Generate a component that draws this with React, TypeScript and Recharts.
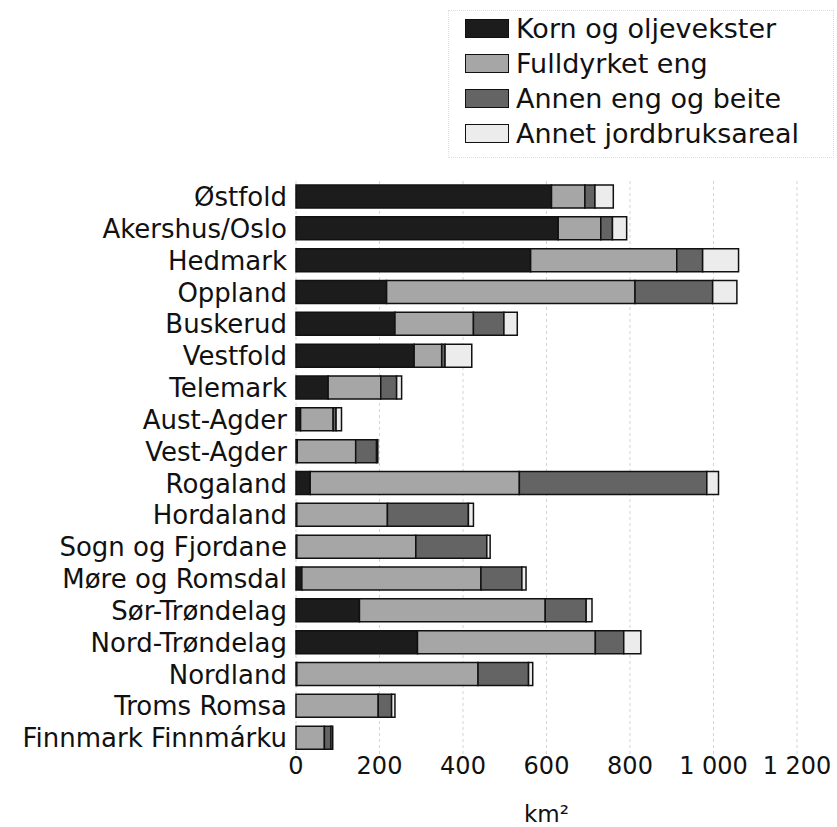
import { BarChart, Bar, XAxis, YAxis, CartesianGrid, Label } from 'recharts';

const regions = [
  'Østfold', 'Akershus/Oslo', 'Hedmark', 'Oppland', 'Buskerud', 'Vestfold',
  'Telemark', 'Aust-Agder', 'Vest-Agder', 'Rogaland', 'Hordaland', 'Sogn og Fjordane',
  'Møre og Romsdal', 'Sør-Trøndelag', 'Nord-Trøndelag', 'Nordland', 'Troms Romsa', 'Finnmark Finnmárku',
];
const korn = [612, 628, 562, 217, 237, 283, 77, 11, 3, 34, 2, 2, 14, 152, 291, 2, 0, 0];
const fulldyrket = [80, 102, 350, 595, 188, 66, 126, 78, 140, 501, 217, 285, 429, 445, 426, 434, 197, 68];
const annenEng = [24, 28, 62, 186, 73, 8, 38, 7, 50, 449, 194, 170, 98, 98, 68, 121, 32, 16];
const annet = [44, 34, 86, 58, 32, 64, 12, 13, 3, 28, 12, 8, 10, 14, 41, 10, 8, 4];

const seriesNames = ['Korn og oljevekster', 'Fulldyrket eng', 'Annen eng og beite', 'Annet jordbruksareal'];
const xTicks = [0, 200, 400, 600, 800, 1000, 1200];
const xTickLabels = ['0', '200', '400', '600', '800', '1 000', '1 200'];

const colors = ['#1c1c1c', '#a6a6a6', '#646464', '#ececec'];
const FONT = '"DejaVu Sans", sans-serif';

const data = regions.map((r, i) => ({
  region: r,
  korn: korn[i],
  fulldyrket: fulldyrket[i],
  annen: annenEng[i],
  annet: annet[i],
}));

function Legend() {
  return (
    <div style={{
      position: 'absolute', left: 448, top: 10, width: 384, height: 146,
      border: '1px dotted #dedede', fontFamily: FONT, fontSize: 27, color: '#111',
    }}>
      {seriesNames.map((name, i) => (
        <div key={name} style={{ display: 'flex', alignItems: 'center', height: 35, marginLeft: 16 }}>
          <span style={{ width: 42, height: 17, background: colors[i], border: '1.5px solid #111', marginRight: 7, display: 'inline-block' }} />
          <span style={{ lineHeight: '35px', whiteSpace: 'nowrap' }}>{name}</span>
        </div>
      ))}
    </div>
  );
}

export default function App() {
  const keys = ['korn', 'fulldyrket', 'annen', 'annet'];
  return (
    <div style={{ position: 'absolute', left: 0, top: 0, width: 837, height: 827, background: '#fff' }}>
      <Legend />
      <BarChart
        width={837}
        height={827}
        data={data}
        layout="vertical"
        margin={{ top: 181, right: 40, bottom: 0, left: 0 }}
        barSize={23}
      >
        <CartesianGrid horizontal={false} strokeDasharray="3 3" stroke="#d4d4d4" />
        <XAxis
          type="number"
          domain={[0, 1200]}
          ticks={xTicks}
          tickFormatter={(v: number) => xTickLabels[xTicks.indexOf(v)]}
          axisLine={false}
          tickLine={false}
          tickSize={0}
          tickMargin={3}
          height={73}
          tick={{ fill: '#111', fontSize: 24, fontFamily: FONT }}
        >
          <Label value="km²" position="insideBottom" offset={5} style={{ fill: '#111', fontSize: 23, fontFamily: FONT }} />
        </XAxis>
        <YAxis
          type="category"
          dataKey="region"
          width={296}
          axisLine={false}
          tickLine={false}
          tickSize={0}
          tickMargin={9}
          interval={0}
          tick={{ fill: '#111', fontSize: 26, fontFamily: FONT }}
        />
        {keys.map((k, i) => (
          <Bar
            key={k}
            dataKey={k}
            name={seriesNames[i]}
            stackId="a"
            fill={colors[i]}
            stroke="#111"
            strokeWidth={1.5}
            isAnimationActive={false}
          />
        ))}
      </BarChart>
    </div>
  );
}
